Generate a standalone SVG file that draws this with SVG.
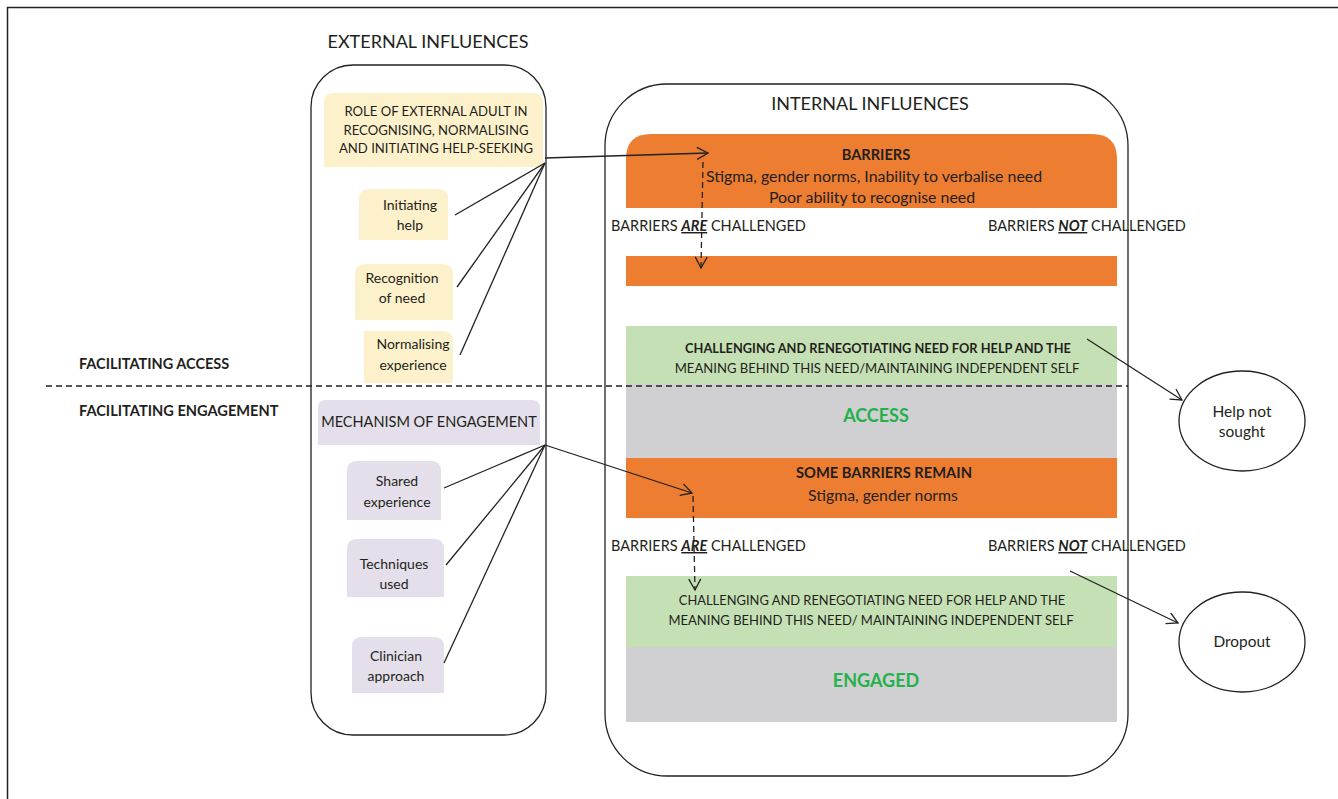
<svg xmlns="http://www.w3.org/2000/svg" width="1338" height="799" viewBox="0 0 1338 799">
<defs>
<marker id="arr" markerWidth="14" markerHeight="14" refX="12" refY="7" orient="auto" markerUnits="userSpaceOnUse">
<path d="M1,1 L12,7 L1,13" fill="none" stroke="#222" stroke-width="1.3"/>
</marker>
<style>
text{font-family:Lato,"Open Sans","Liberation Sans",sans-serif;fill:#231f20}
.t{font-size:14.5px}
.s{font-size:14px}
.h{font-size:18px}
.b{font-weight:bold}
.c{text-anchor:middle}
.g{fill:#23b24b;font-weight:bold;font-size:18px}
.yel{fill:#fdf1cb}
.lav{fill:#e4dfea}
.org{fill:#ed7d31}
.grn{fill:#c5e0b4}
.gry{fill:#d0d0d2}
.ln{stroke:#222;stroke-width:1.3;fill:none}
.dash{stroke:#222;stroke-width:1.3;fill:none;stroke-dasharray:6,4}
</style>
</defs>
<rect width="1338" height="799" fill="#fff"/>
<path d="M1338,7.5 H7.5 V799" fill="none" stroke="#222" stroke-width="1.5"/>

<g id="side-labels">
<text x="79" y="369" class="b" style="font-size:14.5px">FACILITATING ACCESS</text>
<text x="79" y="416" class="b" style="font-size:14.6px">FACILITATING ENGAGEMENT</text>
</g>

<g id="external">
<text x="428" y="48" class="h c">EXTERNAL INFLUENCES</text>
<rect x="311" y="65" width="235" height="670" rx="42" class="ln"/>
</g>
<g id="role">
<path d="M334,93 H533 Q543,93 543,103 V167 H324 V103 Q324,93 334,93 Z" class="yel"/>
<text class="c" style="font-size:13.1px"><tspan x="436" y="116">ROLE OF EXTERNAL ADULT IN</tspan><tspan x="436" y="135">RECOGNISING, NORMALISING</tspan><tspan x="436" y="153">AND INITIATING HELP-SEEKING</tspan></text>
</g>
<g id="initiating">
<path d="M369,189 H438 Q448,189 448,199 V240 H359 V199 Q359,189 369,189 Z" class="yel"/>
<text class="s c"><tspan x="410" y="210">Initiating</tspan><tspan x="410" y="230">help</tspan></text>
</g>
<g id="recognition">
<path d="M365,264 H443 Q453,264 453,274 V320 H355 V274 Q355,264 365,264 Z" class="yel"/>
<text class="s c"><tspan x="402" y="283">Recognition</tspan><tspan x="402" y="303">of need</tspan></text>
</g>
<g id="normalising">
<path d="M364,331 H443 Q453,331 453,341 V383 H364 Z" class="yel"/>
<text class="s c"><tspan x="413" y="349">Normalising</tspan><tspan x="413" y="370">experience</tspan></text>
</g>
<g id="mechanism">
<path d="M326,400 H532 Q540,400 540,408 V445 H318 V408 Q318,400 326,400 Z" class="lav"/>
<text x="429" y="427" class="t c">MECHANISM OF ENGAGEMENT</text>
</g>
<g id="shared">
<path d="M357,461 H431 Q441,461 441,471 V520 H347 V471 Q347,461 357,461 Z" class="lav"/>
<text class="s c"><tspan x="397" y="486">Shared</tspan><tspan x="397" y="507">experience</tspan></text>
</g>
<g id="techniques">
<path d="M357,539 H434 Q444,539 444,549 V597 H347 V549 Q347,539 357,539 Z" class="lav"/>
<text class="s c"><tspan x="394" y="569">Techniques</tspan><tspan x="394" y="589">used</tspan></text>
</g>
<g id="clinician">
<path d="M362,637 H434 Q444,637 444,647 V693 H352 V647 Q352,637 362,637 Z" class="lav"/>
<text class="s c"><tspan x="396" y="661">Clinician</tspan><tspan x="396" y="681">approach</tspan></text>
</g>

<g id="internal">
<rect x="605" y="84" width="523" height="692" rx="62" class="ln"/>
<text x="870" y="110" class="h c">INTERNAL INFLUENCES</text>
</g>
<g id="barriers">
<path d="M651,134 H1092 Q1117,134 1117,159 V208 H626 V159 Q626,134 651,134 Z" class="org"/>
<text x="876" y="160" class="b c" style="font-size:14.6px">BARRIERS</text>
<text x="874" y="182" class="c" style="font-size:15.9px">Stigma, gender norms, Inability to verbalise need</text>
<text x="872" y="203" class="c" style="font-size:15.9px">Poor ability to recognise need</text>
</g>
<g id="labels-1">
<text x="611" y="231" class="t">BARRIERS <tspan font-weight="bold" font-style="italic" text-decoration="underline">ARE</tspan> CHALLENGED</text>
<text x="988" y="231" class="t">BARRIERS <tspan font-weight="bold" font-style="italic" text-decoration="underline">NOT</tspan> CHALLENGED</text>
</g>
<g id="orange-bar">
<rect x="626" y="256" width="491" height="30" class="org"/>
</g>
<g id="challenging-1">
<rect x="626" y="326" width="491" height="58" class="grn"/>
<text x="878" y="353" class="b c" style="font-size:12.8px">CHALLENGING AND RENEGOTIATING NEED FOR HELP AND THE</text>
<text x="877" y="373" class="c" style="font-size:13.1px">MEANING BEHIND THIS NEED/MAINTAINING INDEPENDENT SELF</text>
</g>
<g id="access">
<rect x="626" y="384" width="491" height="74" class="gry"/>
<text x="876" y="422" class="g c">ACCESS</text>
</g>
<g id="some-barriers">
<rect x="626" y="458" width="491" height="60" class="org"/>
<text x="884" y="478" class="b c" style="font-size:14.7px">SOME BARRIERS REMAIN</text>
<text x="883" y="501" class="c" style="font-size:15.8px">Stigma, gender norms</text>
</g>
<g id="labels-2">
<text x="611" y="551" class="t">BARRIERS <tspan font-weight="bold" font-style="italic" text-decoration="underline">ARE</tspan> CHALLENGED</text>
<text x="988" y="551" class="t">BARRIERS <tspan font-weight="bold" font-style="italic" text-decoration="underline">NOT</tspan> CHALLENGED</text>
</g>
<g id="challenging-2">
<rect x="626" y="576" width="491" height="71" class="grn"/>
<text x="872" y="605" class="c" style="font-size:12.9px">CHALLENGING AND RENEGOTIATING NEED FOR HELP AND THE</text>
<text x="871" y="625" class="c" style="font-size:13px">MEANING BEHIND THIS NEED/ MAINTAINING INDEPENDENT SELF</text>
</g>
<g id="engaged">
<rect x="626" y="647" width="491" height="75" class="gry"/>
<text x="876" y="687" class="g c">ENGAGED</text>
</g>

<g id="help-not-sought">
<ellipse cx="1242" cy="421" rx="63" ry="50" class="ln"/>
<text class="c" style="font-size:15.5px"><tspan x="1242" y="417">Help not</tspan><tspan x="1242" y="437">sought</tspan></text>
</g>
<g id="dropout">
<ellipse cx="1242" cy="642" rx="63" ry="50" class="ln"/>
<text x="1242" y="647" class="c" style="font-size:15.4px">Dropout</text>
</g>

<g id="connectors">
<line x1="46" y1="386" x2="1128" y2="386" class="dash"/>
<line x1="545" y1="163" x2="455" y2="215" class="ln"/>
<line x1="545" y1="163" x2="457" y2="287" class="ln"/>
<line x1="545" y1="163" x2="460" y2="355" class="ln"/>
<line x1="545" y1="158" x2="708" y2="153" class="ln" marker-end="url(#arr)"/>
<line x1="703" y1="162" x2="701" y2="268" class="dash" marker-end="url(#arr)"/>
<line x1="545" y1="445" x2="444" y2="488" class="ln"/>
<line x1="545" y1="445" x2="446" y2="565" class="ln"/>
<line x1="545" y1="445" x2="444" y2="663" class="ln"/>
<line x1="545" y1="445" x2="692" y2="493" class="ln" marker-end="url(#arr)"/>
<line x1="693" y1="496" x2="695" y2="590" class="dash" marker-end="url(#arr)"/>
<line x1="1087" y1="339" x2="1182" y2="400" class="ln" marker-end="url(#arr)"/>
<line x1="1070" y1="571" x2="1178" y2="623" class="ln" marker-end="url(#arr)"/>
</g>
</svg>
